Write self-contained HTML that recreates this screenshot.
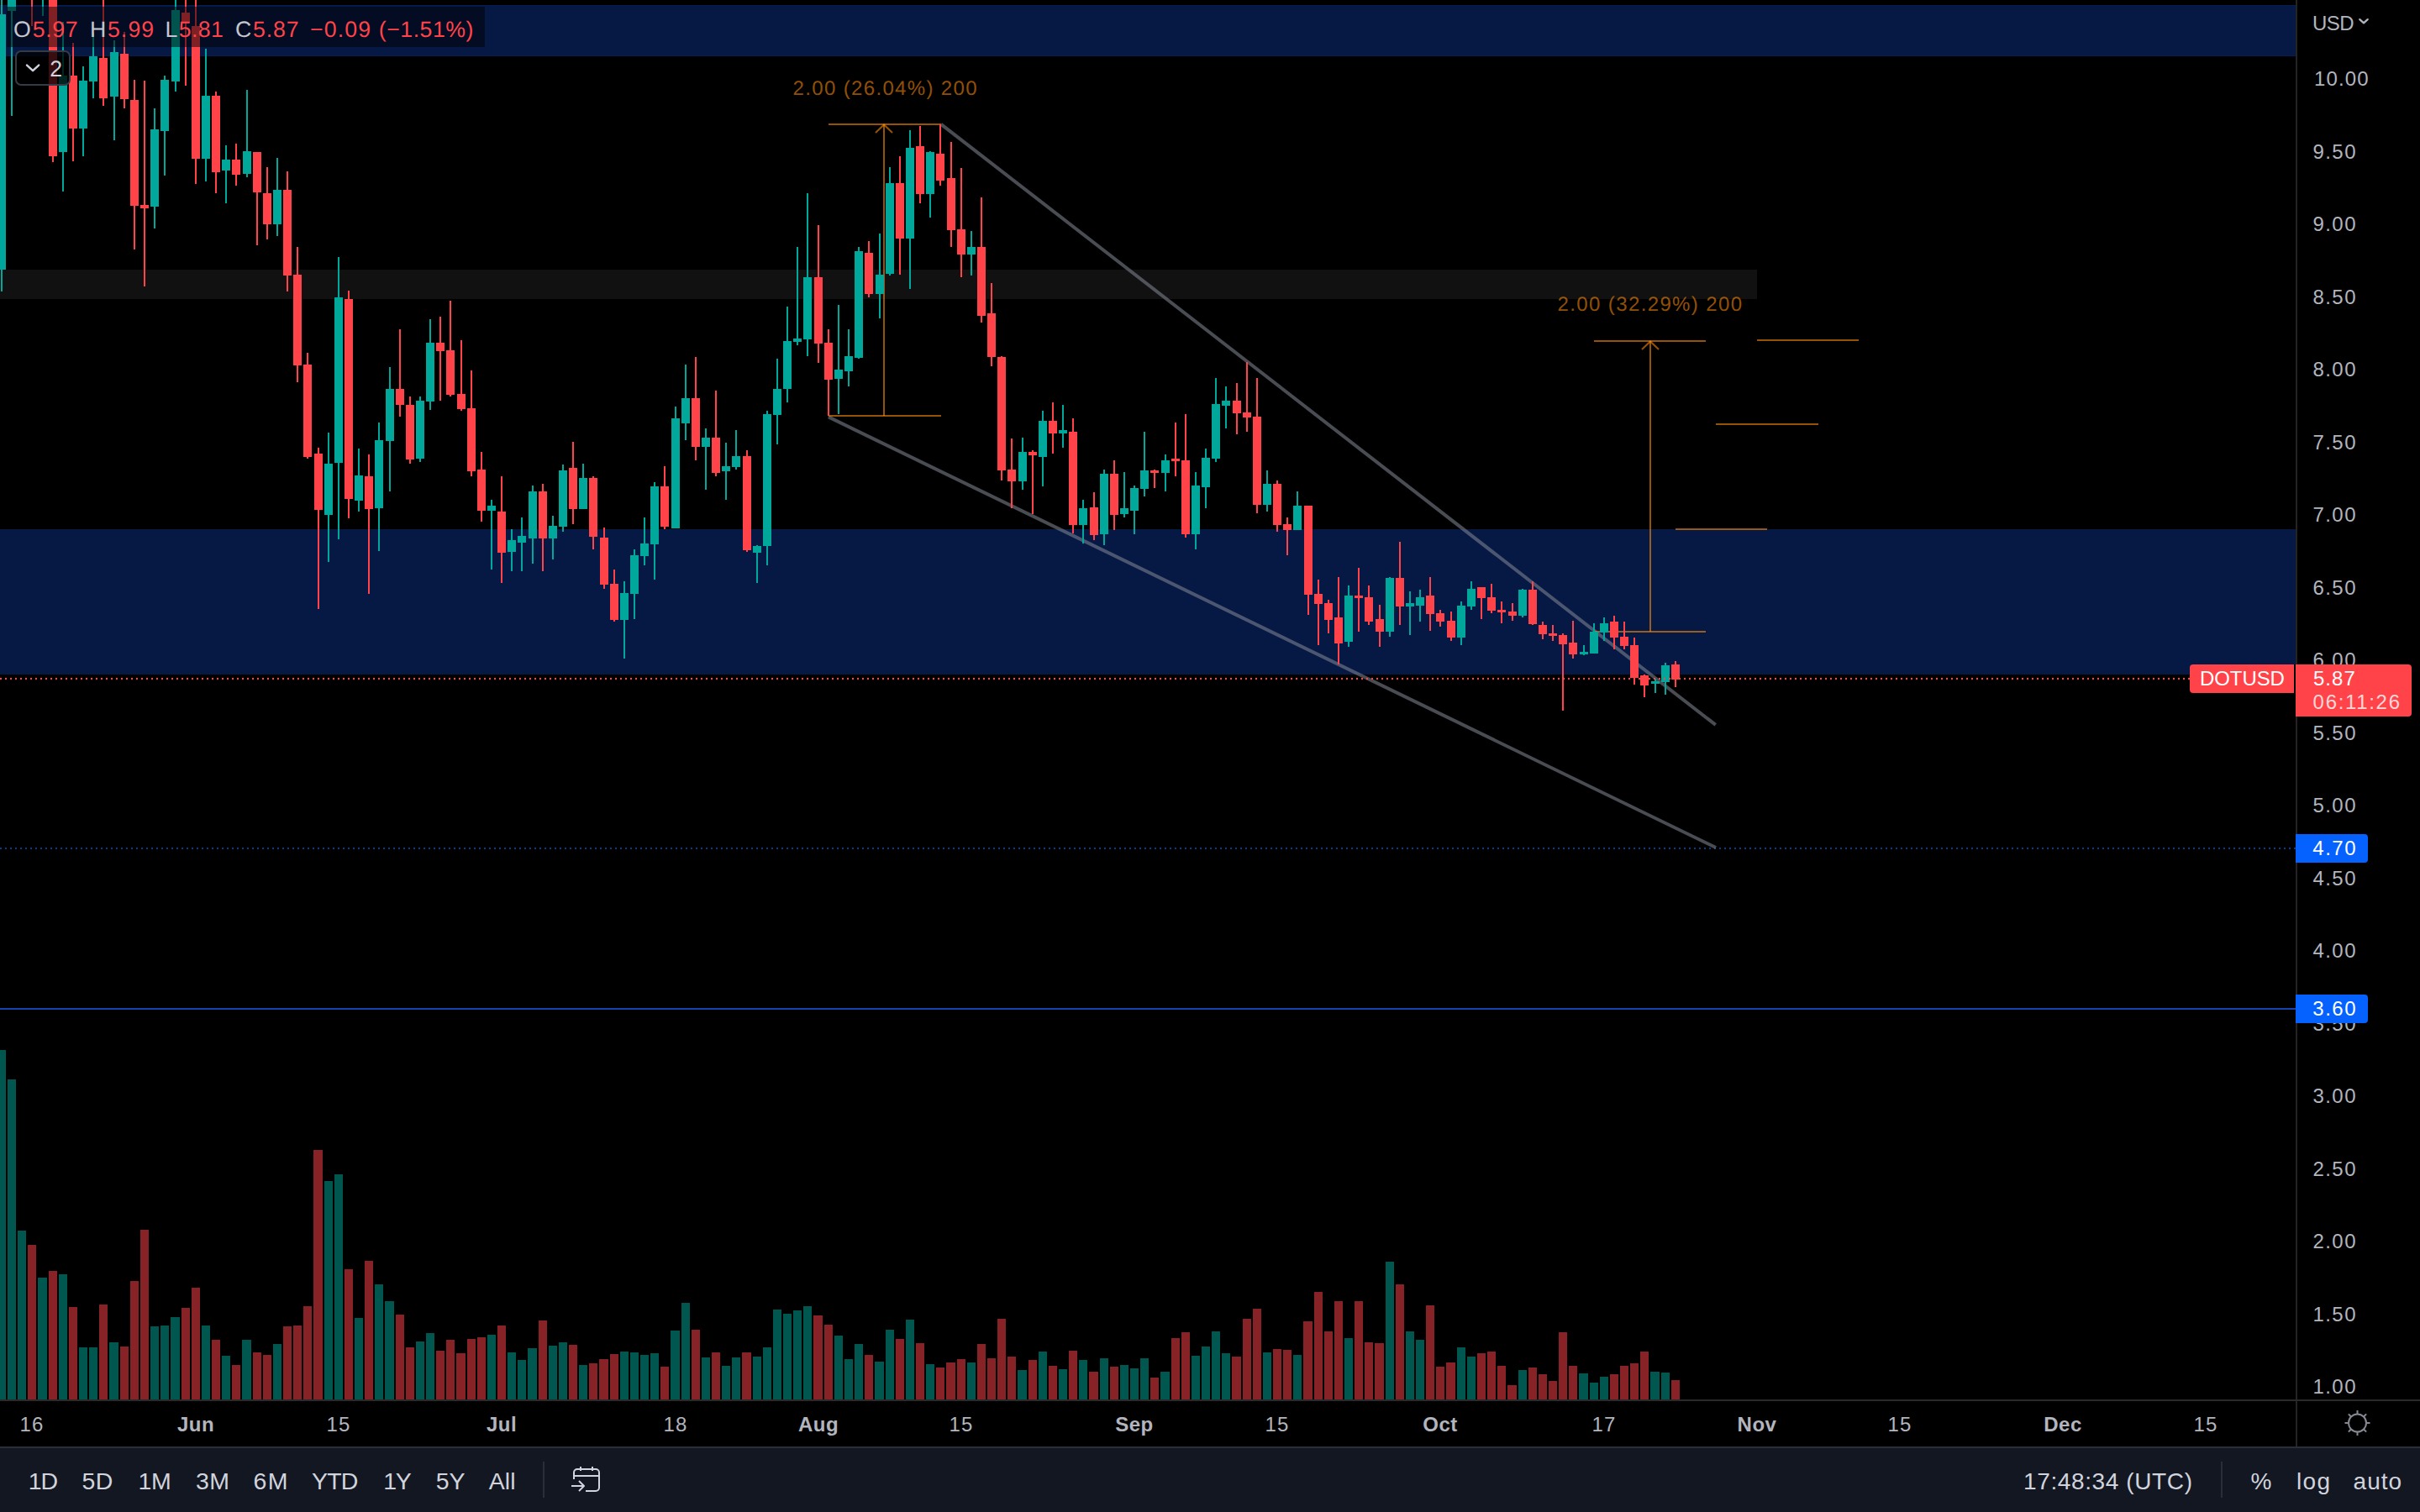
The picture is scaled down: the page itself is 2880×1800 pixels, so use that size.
<!DOCTYPE html>
<html lang="en"><head><meta charset="utf-8"><title>DOTUSD chart</title>
<style>
html,body{margin:0;padding:0;background:#000;}
body{width:2880px;height:1800px;overflow:hidden;position:relative;font-family:"Liberation Sans", sans-serif;}
svg{position:absolute;left:0;top:0;display:block;}
text{font-family:"Liberation Sans", sans-serif;}
</style></head><body>
<svg width="2880" height="1800" viewBox="0 0 2880 1800" shape-rendering="crispEdges">
<rect width="2880" height="1800" fill="#000"/>
<defs><clipPath id="pane"><rect x="0" y="0" width="2732" height="1666"/></clipPath></defs>
<g clip-path="url(#pane)">
<rect x="0" y="6" width="2732" height="61" fill="#061944"/>
<rect x="0" y="6" width="2732" height="1" fill="#061d50"/>
<rect x="0" y="66" width="2732" height="1" fill="#061d50"/>
<rect x="0" y="321" width="2091" height="35" fill="#111111"/>
<rect x="0" y="630" width="2732" height="173" fill="#061944"/>
<rect x="0" y="1200" width="2732" height="2" fill="#1443ab"/>
<line x1="0" y1="1010" x2="2732" y2="1010" stroke="#0b3a8a" stroke-width="2" stroke-dasharray="2 4"/>
<g shape-rendering="geometricPrecision" stroke="rgba(126,129,142,0.59)" stroke-width="4" stroke-linecap="butt">
<line x1="1119.9" y1="147.8" x2="2041.7" y2="862.9"/>
<line x1="986" y1="496.4" x2="2042" y2="1009"/>
</g>
<g fill="rgba(255,142,12,0.585)">
<rect x="986" y="147" width="134" height="2" fill="rgba(255,142,12,0.585)"/>
<rect x="986" y="494" width="134" height="2" fill="rgba(255,142,12,0.585)"/>
<rect x="1051" y="148" width="2" height="347" fill="rgba(255,142,12,0.585)"/>
<rect x="1897" y="405" width="133" height="2" fill="rgba(255,142,12,0.585)"/>
<rect x="1898" y="751" width="132" height="2" fill="rgba(255,142,12,0.585)"/>
<rect x="1963" y="406" width="2" height="346" fill="rgba(255,142,12,0.585)"/>
<rect x="2091" y="404" width="121" height="2" fill="rgba(255,142,12,0.585)"/>
<rect x="2042" y="504" width="122" height="2" fill="rgba(255,142,12,0.585)"/>
<rect x="1994" y="629" width="109" height="2" fill="rgba(255,142,12,0.585)"/>
</g>
<g shape-rendering="geometricPrecision" fill="none" stroke="rgba(255,142,12,0.585)" stroke-width="2">
<path d="M1042 158 L1052 148.5 L1062 158"/>
<path d="M1954 416 L1964 406.5 L1974 416"/>
</g>
<rect x="-3" y="1250" width="10" height="416" fill="#005750"/>
<rect x="9" y="1285" width="10" height="381" fill="#005750"/>
<rect x="21" y="1465" width="10" height="201" fill="#005750"/>
<rect x="33" y="1482" width="10" height="184" fill="#872326"/>
<rect x="45" y="1521" width="11" height="145" fill="#005750"/>
<rect x="58" y="1513" width="10" height="153" fill="#872326"/>
<rect x="70" y="1517" width="10" height="149" fill="#005750"/>
<rect x="82" y="1556" width="10" height="110" fill="#872326"/>
<rect x="94" y="1604" width="10" height="62" fill="#005750"/>
<rect x="106" y="1604" width="10" height="62" fill="#005750"/>
<rect x="118" y="1553" width="10" height="113" fill="#872326"/>
<rect x="130" y="1598" width="11" height="68" fill="#005750"/>
<rect x="143" y="1603" width="10" height="63" fill="#872326"/>
<rect x="155" y="1525" width="10" height="141" fill="#872326"/>
<rect x="167" y="1464" width="10" height="202" fill="#872326"/>
<rect x="179" y="1579" width="10" height="87" fill="#005750"/>
<rect x="191" y="1578" width="10" height="88" fill="#005750"/>
<rect x="203" y="1568" width="11" height="98" fill="#005750"/>
<rect x="216" y="1557" width="10" height="109" fill="#872326"/>
<rect x="228" y="1533" width="10" height="133" fill="#872326"/>
<rect x="240" y="1578" width="10" height="88" fill="#005750"/>
<rect x="252" y="1595" width="10" height="71" fill="#872326"/>
<rect x="264" y="1614" width="10" height="52" fill="#005750"/>
<rect x="276" y="1625" width="10" height="41" fill="#872326"/>
<rect x="288" y="1595" width="11" height="71" fill="#005750"/>
<rect x="301" y="1610" width="10" height="56" fill="#872326"/>
<rect x="313" y="1613" width="10" height="53" fill="#872326"/>
<rect x="325" y="1600" width="10" height="66" fill="#005750"/>
<rect x="337" y="1579" width="10" height="87" fill="#872326"/>
<rect x="349" y="1578" width="10" height="88" fill="#872326"/>
<rect x="361" y="1555" width="10" height="111" fill="#872326"/>
<rect x="373" y="1369" width="11" height="297" fill="#872326"/>
<rect x="386" y="1406" width="10" height="260" fill="#005750"/>
<rect x="398" y="1398" width="10" height="268" fill="#005750"/>
<rect x="410" y="1511" width="10" height="155" fill="#872326"/>
<rect x="422" y="1569" width="10" height="97" fill="#005750"/>
<rect x="434" y="1501" width="10" height="165" fill="#872326"/>
<rect x="446" y="1529" width="10" height="137" fill="#005750"/>
<rect x="458" y="1549" width="11" height="117" fill="#005750"/>
<rect x="471" y="1565" width="10" height="101" fill="#872326"/>
<rect x="483" y="1604" width="10" height="62" fill="#872326"/>
<rect x="495" y="1597" width="10" height="69" fill="#005750"/>
<rect x="507" y="1587" width="10" height="79" fill="#005750"/>
<rect x="519" y="1608" width="10" height="58" fill="#872326"/>
<rect x="531" y="1595" width="10" height="71" fill="#872326"/>
<rect x="543" y="1611" width="11" height="55" fill="#872326"/>
<rect x="556" y="1594" width="10" height="72" fill="#872326"/>
<rect x="568" y="1592" width="10" height="74" fill="#872326"/>
<rect x="580" y="1589" width="10" height="77" fill="#005750"/>
<rect x="592" y="1578" width="10" height="88" fill="#872326"/>
<rect x="604" y="1610" width="10" height="56" fill="#005750"/>
<rect x="616" y="1619" width="10" height="47" fill="#005750"/>
<rect x="628" y="1605" width="11" height="61" fill="#005750"/>
<rect x="641" y="1572" width="10" height="94" fill="#872326"/>
<rect x="653" y="1602" width="10" height="64" fill="#005750"/>
<rect x="665" y="1598" width="10" height="68" fill="#005750"/>
<rect x="677" y="1601" width="10" height="65" fill="#872326"/>
<rect x="689" y="1625" width="10" height="41" fill="#005750"/>
<rect x="701" y="1623" width="10" height="43" fill="#872326"/>
<rect x="713" y="1618" width="11" height="48" fill="#872326"/>
<rect x="726" y="1612" width="10" height="54" fill="#872326"/>
<rect x="738" y="1609" width="10" height="57" fill="#005750"/>
<rect x="750" y="1610" width="10" height="56" fill="#005750"/>
<rect x="762" y="1613" width="10" height="53" fill="#005750"/>
<rect x="774" y="1611" width="10" height="55" fill="#005750"/>
<rect x="786" y="1627" width="10" height="39" fill="#872326"/>
<rect x="798" y="1584" width="11" height="82" fill="#005750"/>
<rect x="811" y="1551" width="10" height="115" fill="#005750"/>
<rect x="823" y="1583" width="10" height="83" fill="#872326"/>
<rect x="835" y="1616" width="10" height="50" fill="#005750"/>
<rect x="847" y="1610" width="10" height="56" fill="#872326"/>
<rect x="859" y="1626" width="10" height="40" fill="#005750"/>
<rect x="871" y="1616" width="10" height="50" fill="#005750"/>
<rect x="883" y="1610" width="11" height="56" fill="#872326"/>
<rect x="896" y="1615" width="10" height="51" fill="#005750"/>
<rect x="908" y="1604" width="10" height="62" fill="#005750"/>
<rect x="920" y="1559" width="10" height="107" fill="#005750"/>
<rect x="932" y="1564" width="10" height="102" fill="#005750"/>
<rect x="944" y="1560" width="10" height="106" fill="#005750"/>
<rect x="956" y="1555" width="10" height="111" fill="#005750"/>
<rect x="968" y="1566" width="11" height="100" fill="#872326"/>
<rect x="981" y="1577" width="10" height="89" fill="#872326"/>
<rect x="993" y="1590" width="10" height="76" fill="#005750"/>
<rect x="1005" y="1618" width="10" height="48" fill="#005750"/>
<rect x="1017" y="1600" width="10" height="66" fill="#005750"/>
<rect x="1029" y="1613" width="10" height="53" fill="#872326"/>
<rect x="1041" y="1621" width="11" height="45" fill="#005750"/>
<rect x="1054" y="1583" width="10" height="83" fill="#005750"/>
<rect x="1066" y="1594" width="10" height="72" fill="#872326"/>
<rect x="1078" y="1571" width="10" height="95" fill="#005750"/>
<rect x="1090" y="1599" width="10" height="67" fill="#872326"/>
<rect x="1102" y="1624" width="10" height="42" fill="#005750"/>
<rect x="1114" y="1628" width="10" height="38" fill="#872326"/>
<rect x="1126" y="1622" width="11" height="44" fill="#872326"/>
<rect x="1139" y="1618" width="10" height="48" fill="#872326"/>
<rect x="1151" y="1622" width="10" height="44" fill="#005750"/>
<rect x="1163" y="1600" width="10" height="66" fill="#872326"/>
<rect x="1175" y="1617" width="10" height="49" fill="#872326"/>
<rect x="1187" y="1570" width="10" height="96" fill="#872326"/>
<rect x="1199" y="1615" width="10" height="51" fill="#872326"/>
<rect x="1211" y="1631" width="11" height="35" fill="#005750"/>
<rect x="1224" y="1619" width="10" height="47" fill="#872326"/>
<rect x="1236" y="1609" width="10" height="57" fill="#005750"/>
<rect x="1248" y="1626" width="10" height="40" fill="#872326"/>
<rect x="1260" y="1630" width="10" height="36" fill="#005750"/>
<rect x="1272" y="1608" width="10" height="58" fill="#872326"/>
<rect x="1284" y="1619" width="10" height="47" fill="#005750"/>
<rect x="1296" y="1633" width="11" height="33" fill="#872326"/>
<rect x="1309" y="1617" width="10" height="49" fill="#005750"/>
<rect x="1321" y="1627" width="10" height="39" fill="#872326"/>
<rect x="1333" y="1625" width="10" height="41" fill="#005750"/>
<rect x="1345" y="1629" width="10" height="37" fill="#005750"/>
<rect x="1357" y="1617" width="10" height="49" fill="#005750"/>
<rect x="1369" y="1640" width="10" height="26" fill="#872326"/>
<rect x="1381" y="1633" width="11" height="33" fill="#005750"/>
<rect x="1394" y="1593" width="10" height="73" fill="#872326"/>
<rect x="1406" y="1586" width="10" height="80" fill="#872326"/>
<rect x="1418" y="1614" width="10" height="52" fill="#005750"/>
<rect x="1430" y="1603" width="10" height="63" fill="#005750"/>
<rect x="1442" y="1585" width="10" height="81" fill="#005750"/>
<rect x="1454" y="1611" width="10" height="55" fill="#005750"/>
<rect x="1466" y="1615" width="11" height="51" fill="#872326"/>
<rect x="1479" y="1570" width="10" height="96" fill="#872326"/>
<rect x="1491" y="1558" width="10" height="108" fill="#872326"/>
<rect x="1503" y="1610" width="10" height="56" fill="#005750"/>
<rect x="1515" y="1606" width="10" height="60" fill="#872326"/>
<rect x="1527" y="1607" width="10" height="59" fill="#872326"/>
<rect x="1539" y="1613" width="10" height="53" fill="#005750"/>
<rect x="1551" y="1573" width="11" height="93" fill="#872326"/>
<rect x="1564" y="1538" width="10" height="128" fill="#872326"/>
<rect x="1576" y="1585" width="10" height="81" fill="#872326"/>
<rect x="1588" y="1549" width="10" height="117" fill="#872326"/>
<rect x="1600" y="1593" width="10" height="73" fill="#005750"/>
<rect x="1612" y="1549" width="10" height="117" fill="#872326"/>
<rect x="1624" y="1598" width="10" height="68" fill="#872326"/>
<rect x="1636" y="1599" width="11" height="67" fill="#872326"/>
<rect x="1649" y="1502" width="10" height="164" fill="#005750"/>
<rect x="1661" y="1529" width="10" height="137" fill="#872326"/>
<rect x="1673" y="1585" width="10" height="81" fill="#005750"/>
<rect x="1685" y="1595" width="10" height="71" fill="#005750"/>
<rect x="1697" y="1554" width="10" height="112" fill="#872326"/>
<rect x="1709" y="1627" width="10" height="39" fill="#872326"/>
<rect x="1721" y="1622" width="11" height="44" fill="#872326"/>
<rect x="1734" y="1604" width="10" height="62" fill="#005750"/>
<rect x="1746" y="1615" width="10" height="51" fill="#005750"/>
<rect x="1758" y="1611" width="10" height="55" fill="#872326"/>
<rect x="1770" y="1609" width="10" height="57" fill="#872326"/>
<rect x="1782" y="1626" width="10" height="40" fill="#872326"/>
<rect x="1794" y="1649" width="11" height="17" fill="#872326"/>
<rect x="1807" y="1631" width="10" height="35" fill="#005750"/>
<rect x="1819" y="1628" width="10" height="38" fill="#872326"/>
<rect x="1831" y="1636" width="10" height="30" fill="#872326"/>
<rect x="1843" y="1644" width="10" height="22" fill="#872326"/>
<rect x="1855" y="1586" width="10" height="80" fill="#872326"/>
<rect x="1867" y="1626" width="10" height="40" fill="#872326"/>
<rect x="1879" y="1635" width="11" height="31" fill="#005750"/>
<rect x="1892" y="1646" width="10" height="20" fill="#005750"/>
<rect x="1904" y="1639" width="10" height="27" fill="#005750"/>
<rect x="1916" y="1636" width="10" height="30" fill="#872326"/>
<rect x="1928" y="1626" width="10" height="40" fill="#872326"/>
<rect x="1940" y="1623" width="10" height="43" fill="#872326"/>
<rect x="1952" y="1609" width="10" height="57" fill="#872326"/>
<rect x="1964" y="1633" width="11" height="33" fill="#005750"/>
<rect x="1977" y="1634" width="10" height="32" fill="#005750"/>
<rect x="1989" y="1643" width="10" height="23" fill="#872326"/>
<rect x="1" y="-5" width="2" height="352" fill="#00a89b"/>
<rect x="-3" y="17" width="10" height="304" fill="#00a89b"/>
<rect x="13" y="-5" width="2" height="143" fill="#00a89b"/>
<rect x="9" y="-5" width="10" height="18" fill="#00a89b"/>
<rect x="37" y="-5" width="2" height="36" fill="#ff4349"/>
<rect x="33" y="-5" width="10" height="2" fill="#ff4349"/>
<rect x="50" y="-5" width="2" height="24" fill="#00a89b"/>
<rect x="46" y="-5" width="10" height="2" fill="#00a89b"/>
<rect x="62" y="-5" width="2" height="198" fill="#ff4349"/>
<rect x="58" y="-5" width="10" height="191" fill="#ff4349"/>
<rect x="74" y="26" width="2" height="202" fill="#00a89b"/>
<rect x="70" y="90" width="10" height="91" fill="#00a89b"/>
<rect x="86" y="51" width="2" height="141" fill="#ff4349"/>
<rect x="82" y="90" width="10" height="63" fill="#ff4349"/>
<rect x="98" y="79" width="2" height="107" fill="#00a89b"/>
<rect x="94" y="96" width="10" height="57" fill="#00a89b"/>
<rect x="110" y="39" width="2" height="78" fill="#00a89b"/>
<rect x="106" y="67" width="10" height="30" fill="#00a89b"/>
<rect x="122" y="-5" width="2" height="131" fill="#ff4349"/>
<rect x="118" y="69" width="10" height="48" fill="#ff4349"/>
<rect x="135" y="48" width="2" height="119" fill="#00a89b"/>
<rect x="131" y="62" width="10" height="53" fill="#00a89b"/>
<rect x="147" y="38" width="2" height="91" fill="#ff4349"/>
<rect x="143" y="64" width="10" height="54" fill="#ff4349"/>
<rect x="159" y="95" width="2" height="202" fill="#ff4349"/>
<rect x="155" y="119" width="10" height="126" fill="#ff4349"/>
<rect x="171" y="96" width="2" height="245" fill="#ff4349"/>
<rect x="167" y="244" width="10" height="4" fill="#ff4349"/>
<rect x="183" y="129" width="2" height="143" fill="#00a89b"/>
<rect x="179" y="154" width="10" height="92" fill="#00a89b"/>
<rect x="195" y="90" width="2" height="119" fill="#00a89b"/>
<rect x="191" y="95" width="10" height="61" fill="#00a89b"/>
<rect x="208" y="-5" width="2" height="114" fill="#00a89b"/>
<rect x="204" y="12" width="10" height="85" fill="#00a89b"/>
<rect x="220" y="-5" width="2" height="107" fill="#ff4349"/>
<rect x="216" y="15" width="10" height="12" fill="#ff4349"/>
<rect x="232" y="-5" width="2" height="224" fill="#ff4349"/>
<rect x="228" y="31" width="10" height="158" fill="#ff4349"/>
<rect x="244" y="58" width="2" height="158" fill="#00a89b"/>
<rect x="240" y="114" width="10" height="75" fill="#00a89b"/>
<rect x="256" y="109" width="2" height="121" fill="#ff4349"/>
<rect x="252" y="114" width="10" height="91" fill="#ff4349"/>
<rect x="268" y="173" width="2" height="69" fill="#00a89b"/>
<rect x="264" y="190" width="10" height="13" fill="#00a89b"/>
<rect x="280" y="171" width="2" height="50" fill="#ff4349"/>
<rect x="276" y="190" width="10" height="18" fill="#ff4349"/>
<rect x="293" y="107" width="2" height="104" fill="#00a89b"/>
<rect x="289" y="180" width="10" height="27" fill="#00a89b"/>
<rect x="305" y="181" width="2" height="111" fill="#ff4349"/>
<rect x="301" y="181" width="10" height="48" fill="#ff4349"/>
<rect x="317" y="199" width="2" height="86" fill="#ff4349"/>
<rect x="313" y="230" width="10" height="37" fill="#ff4349"/>
<rect x="329" y="188" width="2" height="93" fill="#00a89b"/>
<rect x="325" y="226" width="10" height="41" fill="#00a89b"/>
<rect x="341" y="204" width="2" height="143" fill="#ff4349"/>
<rect x="337" y="226" width="10" height="102" fill="#ff4349"/>
<rect x="353" y="294" width="2" height="161" fill="#ff4349"/>
<rect x="349" y="327" width="10" height="108" fill="#ff4349"/>
<rect x="365" y="420" width="2" height="126" fill="#ff4349"/>
<rect x="361" y="434" width="10" height="110" fill="#ff4349"/>
<rect x="378" y="533" width="2" height="192" fill="#ff4349"/>
<rect x="374" y="540" width="10" height="67" fill="#ff4349"/>
<rect x="390" y="515" width="2" height="154" fill="#00a89b"/>
<rect x="386" y="552" width="10" height="61" fill="#00a89b"/>
<rect x="402" y="306" width="2" height="336" fill="#00a89b"/>
<rect x="398" y="354" width="10" height="197" fill="#00a89b"/>
<rect x="414" y="346" width="2" height="271" fill="#ff4349"/>
<rect x="410" y="356" width="10" height="238" fill="#ff4349"/>
<rect x="426" y="534" width="2" height="75" fill="#00a89b"/>
<rect x="422" y="566" width="10" height="30" fill="#00a89b"/>
<rect x="438" y="541" width="2" height="166" fill="#ff4349"/>
<rect x="434" y="567" width="10" height="39" fill="#ff4349"/>
<rect x="450" y="503" width="2" height="153" fill="#00a89b"/>
<rect x="446" y="524" width="10" height="81" fill="#00a89b"/>
<rect x="463" y="437" width="2" height="148" fill="#00a89b"/>
<rect x="459" y="463" width="10" height="62" fill="#00a89b"/>
<rect x="475" y="392" width="2" height="104" fill="#ff4349"/>
<rect x="471" y="463" width="10" height="19" fill="#ff4349"/>
<rect x="487" y="472" width="2" height="80" fill="#ff4349"/>
<rect x="483" y="482" width="10" height="65" fill="#ff4349"/>
<rect x="499" y="472" width="2" height="78" fill="#00a89b"/>
<rect x="495" y="477" width="10" height="69" fill="#00a89b"/>
<rect x="511" y="380" width="2" height="108" fill="#00a89b"/>
<rect x="507" y="408" width="10" height="70" fill="#00a89b"/>
<rect x="523" y="377" width="2" height="100" fill="#ff4349"/>
<rect x="519" y="408" width="10" height="10" fill="#ff4349"/>
<rect x="535" y="358" width="2" height="114" fill="#ff4349"/>
<rect x="531" y="417" width="10" height="53" fill="#ff4349"/>
<rect x="548" y="405" width="2" height="84" fill="#ff4349"/>
<rect x="544" y="469" width="10" height="18" fill="#ff4349"/>
<rect x="560" y="441" width="2" height="126" fill="#ff4349"/>
<rect x="556" y="486" width="10" height="75" fill="#ff4349"/>
<rect x="572" y="538" width="2" height="83" fill="#ff4349"/>
<rect x="568" y="559" width="10" height="49" fill="#ff4349"/>
<rect x="584" y="595" width="2" height="83" fill="#00a89b"/>
<rect x="580" y="602" width="10" height="6" fill="#00a89b"/>
<rect x="596" y="567" width="2" height="127" fill="#ff4349"/>
<rect x="592" y="609" width="10" height="49" fill="#ff4349"/>
<rect x="608" y="630" width="2" height="50" fill="#00a89b"/>
<rect x="604" y="643" width="10" height="14" fill="#00a89b"/>
<rect x="620" y="616" width="2" height="64" fill="#00a89b"/>
<rect x="616" y="638" width="10" height="8" fill="#00a89b"/>
<rect x="633" y="578" width="2" height="93" fill="#00a89b"/>
<rect x="629" y="585" width="10" height="56" fill="#00a89b"/>
<rect x="645" y="576" width="2" height="104" fill="#ff4349"/>
<rect x="641" y="585" width="10" height="56" fill="#ff4349"/>
<rect x="657" y="614" width="2" height="52" fill="#00a89b"/>
<rect x="653" y="626" width="10" height="15" fill="#00a89b"/>
<rect x="669" y="553" width="2" height="80" fill="#00a89b"/>
<rect x="665" y="560" width="10" height="67" fill="#00a89b"/>
<rect x="681" y="526" width="2" height="98" fill="#ff4349"/>
<rect x="677" y="557" width="10" height="49" fill="#ff4349"/>
<rect x="693" y="552" width="2" height="54" fill="#00a89b"/>
<rect x="689" y="569" width="10" height="37" fill="#00a89b"/>
<rect x="705" y="567" width="2" height="87" fill="#ff4349"/>
<rect x="701" y="569" width="10" height="70" fill="#ff4349"/>
<rect x="718" y="628" width="2" height="73" fill="#ff4349"/>
<rect x="714" y="640" width="10" height="56" fill="#ff4349"/>
<rect x="730" y="678" width="2" height="62" fill="#ff4349"/>
<rect x="726" y="695" width="10" height="43" fill="#ff4349"/>
<rect x="742" y="692" width="2" height="92" fill="#00a89b"/>
<rect x="738" y="706" width="10" height="32" fill="#00a89b"/>
<rect x="754" y="654" width="2" height="83" fill="#00a89b"/>
<rect x="750" y="661" width="10" height="46" fill="#00a89b"/>
<rect x="766" y="616" width="2" height="57" fill="#00a89b"/>
<rect x="762" y="647" width="10" height="15" fill="#00a89b"/>
<rect x="778" y="574" width="2" height="116" fill="#00a89b"/>
<rect x="774" y="579" width="10" height="69" fill="#00a89b"/>
<rect x="790" y="555" width="2" height="75" fill="#ff4349"/>
<rect x="786" y="579" width="10" height="48" fill="#ff4349"/>
<rect x="803" y="484" width="2" height="145" fill="#00a89b"/>
<rect x="799" y="498" width="10" height="131" fill="#00a89b"/>
<rect x="815" y="434" width="2" height="90" fill="#00a89b"/>
<rect x="811" y="474" width="10" height="30" fill="#00a89b"/>
<rect x="827" y="425" width="2" height="123" fill="#ff4349"/>
<rect x="823" y="474" width="10" height="58" fill="#ff4349"/>
<rect x="839" y="510" width="2" height="73" fill="#00a89b"/>
<rect x="835" y="521" width="10" height="11" fill="#00a89b"/>
<rect x="851" y="465" width="2" height="102" fill="#ff4349"/>
<rect x="847" y="521" width="10" height="42" fill="#ff4349"/>
<rect x="863" y="527" width="2" height="68" fill="#00a89b"/>
<rect x="859" y="555" width="10" height="6" fill="#00a89b"/>
<rect x="875" y="512" width="2" height="47" fill="#00a89b"/>
<rect x="871" y="543" width="10" height="13" fill="#00a89b"/>
<rect x="888" y="536" width="2" height="121" fill="#ff4349"/>
<rect x="884" y="543" width="10" height="112" fill="#ff4349"/>
<rect x="900" y="649" width="2" height="45" fill="#00a89b"/>
<rect x="896" y="650" width="10" height="8" fill="#00a89b"/>
<rect x="912" y="489" width="2" height="184" fill="#00a89b"/>
<rect x="908" y="493" width="10" height="157" fill="#00a89b"/>
<rect x="924" y="427" width="2" height="102" fill="#00a89b"/>
<rect x="920" y="463" width="10" height="31" fill="#00a89b"/>
<rect x="936" y="365" width="2" height="114" fill="#00a89b"/>
<rect x="932" y="406" width="10" height="57" fill="#00a89b"/>
<rect x="948" y="294" width="2" height="117" fill="#00a89b"/>
<rect x="944" y="403" width="10" height="4" fill="#00a89b"/>
<rect x="960" y="230" width="2" height="194" fill="#00a89b"/>
<rect x="956" y="330" width="10" height="74" fill="#00a89b"/>
<rect x="973" y="268" width="2" height="164" fill="#ff4349"/>
<rect x="969" y="330" width="10" height="79" fill="#ff4349"/>
<rect x="985" y="392" width="2" height="103" fill="#ff4349"/>
<rect x="981" y="408" width="10" height="44" fill="#ff4349"/>
<rect x="997" y="363" width="2" height="130" fill="#00a89b"/>
<rect x="993" y="440" width="10" height="11" fill="#00a89b"/>
<rect x="1009" y="392" width="2" height="68" fill="#00a89b"/>
<rect x="1005" y="424" width="10" height="18" fill="#00a89b"/>
<rect x="1021" y="294" width="2" height="133" fill="#00a89b"/>
<rect x="1017" y="299" width="10" height="127" fill="#00a89b"/>
<rect x="1033" y="287" width="2" height="67" fill="#ff4349"/>
<rect x="1029" y="301" width="10" height="49" fill="#ff4349"/>
<rect x="1046" y="278" width="2" height="101" fill="#00a89b"/>
<rect x="1042" y="327" width="10" height="23" fill="#00a89b"/>
<rect x="1058" y="199" width="2" height="129" fill="#00a89b"/>
<rect x="1054" y="218" width="10" height="108" fill="#00a89b"/>
<rect x="1070" y="186" width="2" height="141" fill="#ff4349"/>
<rect x="1066" y="218" width="10" height="66" fill="#ff4349"/>
<rect x="1082" y="155" width="2" height="189" fill="#00a89b"/>
<rect x="1078" y="176" width="10" height="108" fill="#00a89b"/>
<rect x="1094" y="150" width="2" height="92" fill="#ff4349"/>
<rect x="1090" y="174" width="10" height="57" fill="#ff4349"/>
<rect x="1106" y="180" width="2" height="79" fill="#00a89b"/>
<rect x="1102" y="181" width="10" height="50" fill="#00a89b"/>
<rect x="1118" y="148" width="2" height="73" fill="#ff4349"/>
<rect x="1114" y="183" width="10" height="32" fill="#ff4349"/>
<rect x="1131" y="169" width="2" height="125" fill="#ff4349"/>
<rect x="1127" y="212" width="10" height="62" fill="#ff4349"/>
<rect x="1143" y="200" width="2" height="130" fill="#ff4349"/>
<rect x="1139" y="273" width="10" height="30" fill="#ff4349"/>
<rect x="1155" y="275" width="2" height="53" fill="#00a89b"/>
<rect x="1151" y="294" width="10" height="9" fill="#00a89b"/>
<rect x="1167" y="235" width="2" height="149" fill="#ff4349"/>
<rect x="1163" y="294" width="10" height="82" fill="#ff4349"/>
<rect x="1179" y="337" width="2" height="99" fill="#ff4349"/>
<rect x="1175" y="373" width="10" height="52" fill="#ff4349"/>
<rect x="1191" y="424" width="2" height="148" fill="#ff4349"/>
<rect x="1187" y="425" width="10" height="135" fill="#ff4349"/>
<rect x="1203" y="522" width="2" height="83" fill="#ff4349"/>
<rect x="1199" y="559" width="10" height="14" fill="#ff4349"/>
<rect x="1216" y="521" width="2" height="62" fill="#00a89b"/>
<rect x="1212" y="538" width="10" height="35" fill="#00a89b"/>
<rect x="1228" y="536" width="2" height="76" fill="#ff4349"/>
<rect x="1224" y="538" width="10" height="4" fill="#ff4349"/>
<rect x="1240" y="489" width="2" height="90" fill="#00a89b"/>
<rect x="1236" y="501" width="10" height="43" fill="#00a89b"/>
<rect x="1252" y="479" width="2" height="61" fill="#ff4349"/>
<rect x="1248" y="501" width="10" height="15" fill="#ff4349"/>
<rect x="1264" y="482" width="2" height="51" fill="#00a89b"/>
<rect x="1260" y="512" width="10" height="4" fill="#00a89b"/>
<rect x="1276" y="498" width="2" height="137" fill="#ff4349"/>
<rect x="1272" y="514" width="10" height="111" fill="#ff4349"/>
<rect x="1288" y="595" width="2" height="52" fill="#00a89b"/>
<rect x="1284" y="605" width="10" height="20" fill="#00a89b"/>
<rect x="1301" y="586" width="2" height="57" fill="#ff4349"/>
<rect x="1297" y="604" width="10" height="33" fill="#ff4349"/>
<rect x="1313" y="559" width="2" height="90" fill="#00a89b"/>
<rect x="1309" y="564" width="10" height="72" fill="#00a89b"/>
<rect x="1325" y="548" width="2" height="83" fill="#ff4349"/>
<rect x="1321" y="564" width="10" height="49" fill="#ff4349"/>
<rect x="1337" y="562" width="2" height="54" fill="#00a89b"/>
<rect x="1333" y="605" width="10" height="7" fill="#00a89b"/>
<rect x="1349" y="578" width="2" height="58" fill="#00a89b"/>
<rect x="1345" y="581" width="10" height="27" fill="#00a89b"/>
<rect x="1361" y="514" width="2" height="77" fill="#00a89b"/>
<rect x="1357" y="560" width="10" height="22" fill="#00a89b"/>
<rect x="1373" y="559" width="2" height="22" fill="#ff4349"/>
<rect x="1369" y="560" width="10" height="3" fill="#ff4349"/>
<rect x="1386" y="541" width="2" height="44" fill="#00a89b"/>
<rect x="1382" y="548" width="10" height="15" fill="#00a89b"/>
<rect x="1398" y="503" width="2" height="64" fill="#ff4349"/>
<rect x="1394" y="546" width="10" height="3" fill="#ff4349"/>
<rect x="1410" y="493" width="2" height="147" fill="#ff4349"/>
<rect x="1406" y="548" width="10" height="88" fill="#ff4349"/>
<rect x="1422" y="562" width="2" height="92" fill="#00a89b"/>
<rect x="1418" y="578" width="10" height="58" fill="#00a89b"/>
<rect x="1434" y="534" width="2" height="71" fill="#00a89b"/>
<rect x="1430" y="545" width="10" height="35" fill="#00a89b"/>
<rect x="1446" y="450" width="2" height="100" fill="#00a89b"/>
<rect x="1442" y="481" width="10" height="65" fill="#00a89b"/>
<rect x="1458" y="460" width="2" height="50" fill="#00a89b"/>
<rect x="1454" y="477" width="10" height="6" fill="#00a89b"/>
<rect x="1471" y="456" width="2" height="61" fill="#ff4349"/>
<rect x="1467" y="477" width="10" height="15" fill="#ff4349"/>
<rect x="1483" y="431" width="2" height="83" fill="#ff4349"/>
<rect x="1479" y="491" width="10" height="6" fill="#ff4349"/>
<rect x="1495" y="450" width="2" height="161" fill="#ff4349"/>
<rect x="1491" y="496" width="10" height="105" fill="#ff4349"/>
<rect x="1507" y="560" width="2" height="49" fill="#00a89b"/>
<rect x="1503" y="576" width="10" height="25" fill="#00a89b"/>
<rect x="1519" y="572" width="2" height="61" fill="#ff4349"/>
<rect x="1515" y="576" width="10" height="49" fill="#ff4349"/>
<rect x="1531" y="616" width="2" height="45" fill="#ff4349"/>
<rect x="1527" y="624" width="10" height="7" fill="#ff4349"/>
<rect x="1543" y="585" width="2" height="46" fill="#00a89b"/>
<rect x="1539" y="602" width="10" height="29" fill="#00a89b"/>
<rect x="1556" y="602" width="2" height="130" fill="#ff4349"/>
<rect x="1552" y="602" width="10" height="106" fill="#ff4349"/>
<rect x="1568" y="690" width="2" height="78" fill="#ff4349"/>
<rect x="1564" y="707" width="10" height="12" fill="#ff4349"/>
<rect x="1580" y="714" width="2" height="40" fill="#ff4349"/>
<rect x="1576" y="718" width="10" height="20" fill="#ff4349"/>
<rect x="1592" y="687" width="2" height="104" fill="#ff4349"/>
<rect x="1588" y="735" width="10" height="31" fill="#ff4349"/>
<rect x="1604" y="697" width="2" height="73" fill="#00a89b"/>
<rect x="1600" y="709" width="10" height="55" fill="#00a89b"/>
<rect x="1616" y="676" width="2" height="76" fill="#ff4349"/>
<rect x="1612" y="709" width="10" height="3" fill="#ff4349"/>
<rect x="1628" y="697" width="2" height="47" fill="#ff4349"/>
<rect x="1624" y="711" width="10" height="29" fill="#ff4349"/>
<rect x="1641" y="720" width="2" height="50" fill="#ff4349"/>
<rect x="1637" y="737" width="10" height="15" fill="#ff4349"/>
<rect x="1653" y="687" width="2" height="71" fill="#00a89b"/>
<rect x="1649" y="688" width="10" height="64" fill="#00a89b"/>
<rect x="1665" y="645" width="2" height="99" fill="#ff4349"/>
<rect x="1661" y="688" width="10" height="34" fill="#ff4349"/>
<rect x="1677" y="704" width="2" height="52" fill="#00a89b"/>
<rect x="1673" y="718" width="10" height="4" fill="#00a89b"/>
<rect x="1689" y="702" width="2" height="38" fill="#00a89b"/>
<rect x="1685" y="711" width="10" height="10" fill="#00a89b"/>
<rect x="1701" y="687" width="2" height="64" fill="#ff4349"/>
<rect x="1697" y="709" width="10" height="22" fill="#ff4349"/>
<rect x="1713" y="726" width="2" height="20" fill="#ff4349"/>
<rect x="1709" y="730" width="10" height="10" fill="#ff4349"/>
<rect x="1726" y="728" width="2" height="35" fill="#ff4349"/>
<rect x="1722" y="739" width="10" height="20" fill="#ff4349"/>
<rect x="1738" y="716" width="2" height="52" fill="#00a89b"/>
<rect x="1734" y="721" width="10" height="38" fill="#00a89b"/>
<rect x="1750" y="692" width="2" height="34" fill="#00a89b"/>
<rect x="1746" y="701" width="10" height="21" fill="#00a89b"/>
<rect x="1762" y="699" width="2" height="38" fill="#ff4349"/>
<rect x="1758" y="699" width="10" height="13" fill="#ff4349"/>
<rect x="1774" y="695" width="2" height="35" fill="#ff4349"/>
<rect x="1770" y="711" width="10" height="16" fill="#ff4349"/>
<rect x="1786" y="716" width="2" height="26" fill="#ff4349"/>
<rect x="1782" y="726" width="10" height="3" fill="#ff4349"/>
<rect x="1799" y="718" width="2" height="21" fill="#ff4349"/>
<rect x="1795" y="728" width="10" height="5" fill="#ff4349"/>
<rect x="1811" y="701" width="2" height="34" fill="#00a89b"/>
<rect x="1807" y="702" width="10" height="31" fill="#00a89b"/>
<rect x="1823" y="692" width="2" height="52" fill="#ff4349"/>
<rect x="1819" y="702" width="10" height="41" fill="#ff4349"/>
<rect x="1835" y="740" width="2" height="21" fill="#ff4349"/>
<rect x="1831" y="744" width="10" height="11" fill="#ff4349"/>
<rect x="1847" y="744" width="2" height="19" fill="#ff4349"/>
<rect x="1843" y="754" width="10" height="3" fill="#ff4349"/>
<rect x="1859" y="754" width="2" height="92" fill="#ff4349"/>
<rect x="1855" y="756" width="10" height="11" fill="#ff4349"/>
<rect x="1871" y="739" width="2" height="45" fill="#ff4349"/>
<rect x="1867" y="765" width="10" height="14" fill="#ff4349"/>
<rect x="1884" y="768" width="2" height="12" fill="#00a89b"/>
<rect x="1880" y="776" width="10" height="3" fill="#00a89b"/>
<rect x="1896" y="742" width="2" height="36" fill="#00a89b"/>
<rect x="1892" y="752" width="10" height="26" fill="#00a89b"/>
<rect x="1908" y="735" width="2" height="28" fill="#00a89b"/>
<rect x="1904" y="742" width="10" height="11" fill="#00a89b"/>
<rect x="1920" y="733" width="2" height="40" fill="#ff4349"/>
<rect x="1916" y="740" width="10" height="19" fill="#ff4349"/>
<rect x="1932" y="740" width="2" height="33" fill="#ff4349"/>
<rect x="1928" y="758" width="10" height="11" fill="#ff4349"/>
<rect x="1944" y="759" width="2" height="56" fill="#ff4349"/>
<rect x="1940" y="768" width="10" height="39" fill="#ff4349"/>
<rect x="1956" y="803" width="2" height="27" fill="#ff4349"/>
<rect x="1952" y="804" width="10" height="12" fill="#ff4349"/>
<rect x="1969" y="808" width="2" height="17" fill="#00a89b"/>
<rect x="1965" y="811" width="10" height="3" fill="#00a89b"/>
<rect x="1981" y="789" width="2" height="38" fill="#00a89b"/>
<rect x="1977" y="792" width="10" height="20" fill="#00a89b"/>
<rect x="1993" y="787" width="2" height="31" fill="#ff4349"/>
<rect x="1989" y="791" width="10" height="18" fill="#ff4349"/>
<line x1="0" y1="808" x2="2732" y2="808" stroke="#ff4349" stroke-width="2" stroke-dasharray="2 4"/>
</g>
<rect x="8" y="8" width="569" height="48" fill="rgba(0,0,0,0.5)"/>
<g shape-rendering="geometricPrecision" text-rendering="geometricPrecision">
<text x="15.9" y="43.9" font-size="26.7" fill="#c3c6cf" font-weight="normal">O</text>
<text x="38.7" y="43.9" font-size="26.7" fill="#ff4349" font-weight="normal" textLength="54.0" lengthAdjust="spacing">5.97</text>
<text x="106.9" y="43.9" font-size="26.7" fill="#c3c6cf" font-weight="normal">H</text>
<text x="127.9" y="43.9" font-size="26.7" fill="#ff4349" font-weight="normal" textLength="55.3" lengthAdjust="spacing">5.99</text>
<text x="196.6" y="43.9" font-size="26.7" fill="#c3c6cf" font-weight="normal">L</text>
<text x="212.7" y="43.9" font-size="26.7" fill="#ff4349" font-weight="normal" textLength="53.1" lengthAdjust="spacing">5.81</text>
<text x="279.9" y="43.9" font-size="26.7" fill="#c3c6cf" font-weight="normal">C</text>
<text x="301.0" y="43.9" font-size="26.7" fill="#ff4349" font-weight="normal" textLength="54.6" lengthAdjust="spacing">5.87</text>
<text x="369.0" y="43.9" font-size="26.7" fill="#ff4349" font-weight="normal" textLength="72.0" lengthAdjust="spacing">−0.09</text>
<text x="450.8" y="43.9" font-size="26.7" fill="#ff4349" font-weight="normal" textLength="112.6" lengthAdjust="spacing">(−1.51%)</text>
<rect x="19" y="61" width="64" height="40" rx="6" ry="6" fill="rgba(0,0,0,0.78)" stroke="#363a45" stroke-width="2"/>
<path d="M32 77.6 L39.1 84.2 L46.2 77.6" fill="none" stroke="#d1d4dc" stroke-width="2.4" stroke-linecap="round" stroke-linejoin="round"/>
<text x="59.3" y="90.6" font-size="26.7" fill="#d1d4dc" font-weight="normal">2</text>
<text x="943.6" y="113.1" font-size="24" fill="rgba(255,142,12,0.585)" font-weight="normal" textLength="218.9" lengthAdjust="spacing">2.00 (26.04%) 200</text>
<text x="1853.6" y="369.9" font-size="24" fill="rgba(255,142,12,0.585)" font-weight="normal" textLength="219.4" lengthAdjust="spacing">2.00 (32.29%) 200</text>
</g>
<rect x="2732" y="0" width="2" height="1722" fill="#242424"/>
<g shape-rendering="geometricPrecision">
<text x="2754.0" y="102.2" font-size="24" fill="#b2b5be" font-weight="normal" textLength="64.5" lengthAdjust="spacing">10.00</text>
<text x="2752.5" y="188.7" font-size="24" fill="#b2b5be" font-weight="normal" textLength="51.0" lengthAdjust="spacing">9.50</text>
<text x="2752.5" y="275.2" font-size="24" fill="#b2b5be" font-weight="normal" textLength="51.0" lengthAdjust="spacing">9.00</text>
<text x="2752.5" y="361.7" font-size="24" fill="#b2b5be" font-weight="normal" textLength="51.0" lengthAdjust="spacing">8.50</text>
<text x="2752.5" y="448.2" font-size="24" fill="#b2b5be" font-weight="normal" textLength="51.0" lengthAdjust="spacing">8.00</text>
<text x="2752.5" y="534.7" font-size="24" fill="#b2b5be" font-weight="normal" textLength="51.0" lengthAdjust="spacing">7.50</text>
<text x="2752.5" y="621.2" font-size="24" fill="#b2b5be" font-weight="normal" textLength="51.0" lengthAdjust="spacing">7.00</text>
<text x="2752.5" y="707.7" font-size="24" fill="#b2b5be" font-weight="normal" textLength="51.0" lengthAdjust="spacing">6.50</text>
<text x="2752.5" y="794.2" font-size="24" fill="#b2b5be" font-weight="normal" textLength="51.0" lengthAdjust="spacing">6.00</text>
<text x="2752.5" y="880.7" font-size="24" fill="#b2b5be" font-weight="normal" textLength="51.0" lengthAdjust="spacing">5.50</text>
<text x="2752.5" y="967.2" font-size="24" fill="#b2b5be" font-weight="normal" textLength="51.0" lengthAdjust="spacing">5.00</text>
<text x="2752.5" y="1053.7" font-size="24" fill="#b2b5be" font-weight="normal" textLength="51.0" lengthAdjust="spacing">4.50</text>
<text x="2752.5" y="1140.2" font-size="24" fill="#b2b5be" font-weight="normal" textLength="51.0" lengthAdjust="spacing">4.00</text>
<text x="2752.5" y="1226.7" font-size="24" fill="#b2b5be" font-weight="normal" textLength="51.0" lengthAdjust="spacing">3.50</text>
<text x="2752.5" y="1313.2" font-size="24" fill="#b2b5be" font-weight="normal" textLength="51.0" lengthAdjust="spacing">3.00</text>
<text x="2752.5" y="1399.7" font-size="24" fill="#b2b5be" font-weight="normal" textLength="51.0" lengthAdjust="spacing">2.50</text>
<text x="2752.5" y="1486.2" font-size="24" fill="#b2b5be" font-weight="normal" textLength="51.0" lengthAdjust="spacing">2.00</text>
<text x="2752.5" y="1572.7" font-size="24" fill="#b2b5be" font-weight="normal" textLength="51.0" lengthAdjust="spacing">1.50</text>
<text x="2752.5" y="1659.2" font-size="24" fill="#b2b5be" font-weight="normal" textLength="51.0" lengthAdjust="spacing">1.00</text>
<text x="2752.0" y="36.2" font-size="24" fill="#b2b5be" font-weight="normal" textLength="49.5" lengthAdjust="spacing">USD</text>
<path d="M2808.3 23.1 L2813 27.3 L2817.7 23.1" fill="none" stroke="#b2b5be" stroke-width="2.3" stroke-linecap="round" stroke-linejoin="round"/>
<path d="M2732 993 H2814 a4 4 0 0 1 4 4 V1023 a4 4 0 0 1 -4 4 H2732 Z" fill="#0562ff"/>
<text x="2752.3" y="1018" font-size="24" fill="#fff" font-weight="normal" textLength="51.2" lengthAdjust="spacing">4.70</text>
<path d="M2732 1184 H2814 a4 4 0 0 1 4 4 V1214 a4 4 0 0 1 -4 4 H2732 Z" fill="#0562ff"/>
<text x="2752.3" y="1209" font-size="24" fill="#fff" font-weight="normal" textLength="51.2" lengthAdjust="spacing">3.60</text>
<rect x="2730" y="791" width="2" height="34" fill="#000"/>
<path d="M2732 791 H2866 a4 4 0 0 1 4 4 V849 a4 4 0 0 1 -4 4 H2732 Z" fill="#ff4349"/>
<text x="2752.9" y="816" font-size="24" fill="#fff" font-weight="normal" textLength="50.0" lengthAdjust="spacing">5.87</text>
<text x="2752.6" y="844" font-size="24" fill="rgba(255,255,255,0.8)" font-weight="normal" textLength="103.4" lengthAdjust="spacing">06:11:26</text>
<path d="M2730 791 H2610 a4 4 0 0 0 -4 4 V821 a4 4 0 0 0 4 4 H2730 Z" fill="#ff4349"/>
<text x="2618.0" y="816" font-size="24" fill="#fff" font-weight="normal" textLength="100.9" lengthAdjust="spacing">DOTUSD</text>
</g>
<rect x="0" y="1666" width="2880" height="2" fill="#2a2a2a"/>
<g shape-rendering="geometricPrecision">
<text x="38" y="1703.5" font-size="24" fill="#b2b5be" text-anchor="middle" font-weight="normal" letter-spacing="1.2">16</text>
<text x="233" y="1703.5" font-size="24" fill="#b2b5be" text-anchor="middle" font-weight="bold" letter-spacing="0.5">Jun</text>
<text x="403" y="1703.5" font-size="24" fill="#b2b5be" text-anchor="middle" font-weight="normal" letter-spacing="1.2">15</text>
<text x="597" y="1703.5" font-size="24" fill="#b2b5be" text-anchor="middle" font-weight="bold" letter-spacing="0.5">Jul</text>
<text x="804" y="1703.5" font-size="24" fill="#b2b5be" text-anchor="middle" font-weight="normal" letter-spacing="1.2">18</text>
<text x="974" y="1703.5" font-size="24" fill="#b2b5be" text-anchor="middle" font-weight="bold" letter-spacing="0.5">Aug</text>
<text x="1144" y="1703.5" font-size="24" fill="#b2b5be" text-anchor="middle" font-weight="normal" letter-spacing="1.2">15</text>
<text x="1350" y="1703.5" font-size="24" fill="#b2b5be" text-anchor="middle" font-weight="bold" letter-spacing="0.5">Sep</text>
<text x="1520" y="1703.5" font-size="24" fill="#b2b5be" text-anchor="middle" font-weight="normal" letter-spacing="1.2">15</text>
<text x="1714" y="1703.5" font-size="24" fill="#b2b5be" text-anchor="middle" font-weight="bold" letter-spacing="0.5">Oct</text>
<text x="1909" y="1703.5" font-size="24" fill="#b2b5be" text-anchor="middle" font-weight="normal" letter-spacing="1.2">17</text>
<text x="2091" y="1703.5" font-size="24" fill="#b2b5be" text-anchor="middle" font-weight="bold" letter-spacing="0.5">Nov</text>
<text x="2261" y="1703.5" font-size="24" fill="#b2b5be" text-anchor="middle" font-weight="normal" letter-spacing="1.2">15</text>
<text x="2455" y="1703.5" font-size="24" fill="#b2b5be" text-anchor="middle" font-weight="bold" letter-spacing="0.5">Dec</text>
<text x="2625" y="1703.5" font-size="24" fill="#b2b5be" text-anchor="middle" font-weight="normal" letter-spacing="1.2">15</text>
<g fill="none" stroke="#868993" stroke-width="2" stroke-linecap="butt">
<circle cx="2805.5" cy="1694" r="10.5"/>
<line x1="2816.50" y1="1694.00" x2="2820.50" y2="1694.00"/>
<line x1="2813.28" y1="1701.78" x2="2816.11" y2="1704.61"/>
<line x1="2805.50" y1="1705.00" x2="2805.50" y2="1709.00"/>
<line x1="2797.72" y1="1701.78" x2="2794.89" y2="1704.61"/>
<line x1="2794.50" y1="1694.00" x2="2790.50" y2="1694.00"/>
<line x1="2797.72" y1="1686.22" x2="2794.89" y2="1683.39"/>
<line x1="2805.50" y1="1683.00" x2="2805.50" y2="1679.00"/>
<line x1="2813.28" y1="1686.22" x2="2816.11" y2="1683.39"/>
</g>
</g>
<rect x="0" y="1722" width="2880" height="78" fill="#131722"/>
<rect x="0" y="1722" width="2880" height="2" fill="#2a2e39"/>
<g shape-rendering="geometricPrecision">
<text x="33.7" y="1772.6" font-size="28.5" fill="#d1d4dc" font-weight="normal" textLength="35.3" lengthAdjust="spacing">1D</text>
<text x="97.6" y="1772.6" font-size="28.5" fill="#d1d4dc" font-weight="normal" textLength="36.7" lengthAdjust="spacing">5D</text>
<text x="164.6" y="1772.6" font-size="28.5" fill="#d1d4dc" font-weight="normal" textLength="39.1" lengthAdjust="spacing">1M</text>
<text x="233.0" y="1772.6" font-size="28.5" fill="#d1d4dc" font-weight="normal" textLength="40.0" lengthAdjust="spacing">3M</text>
<text x="301.5" y="1772.6" font-size="28.5" fill="#d1d4dc" font-weight="normal" textLength="41.0" lengthAdjust="spacing">6M</text>
<text x="370.9" y="1772.6" font-size="28.5" fill="#d1d4dc" font-weight="normal" textLength="55.5" lengthAdjust="spacing">YTD</text>
<text x="456.2" y="1772.6" font-size="28.5" fill="#d1d4dc" font-weight="normal" textLength="33.5" lengthAdjust="spacing">1Y</text>
<text x="518.7" y="1772.6" font-size="28.5" fill="#d1d4dc" font-weight="normal" textLength="34.7" lengthAdjust="spacing">5Y</text>
<text x="581.7" y="1772.6" font-size="28.5" fill="#d1d4dc" font-weight="normal" textLength="31.8" lengthAdjust="spacing">All</text>
<rect x="646" y="1740" width="2" height="43" fill="#2a2e39"/>
<g fill="none" stroke="#d1d4dc" stroke-width="2" stroke-linecap="butt" stroke-linejoin="round">
<path d="M683 1761 V1753 a4 4 0 0 1 4 -4 H709 a4 4 0 0 1 4 4 V1771 a4 4 0 0 1 -4 4 H697"/>
<path d="M683 1757 H713"/>
<path d="M691 1746 V1751 M705 1746 V1751"/>
<path d="M680 1769 H695 M689 1763 L695 1769 L689 1775"/>
</g>
<text x="2408.0" y="1772.6" font-size="28" fill="#d1d4dc" font-weight="normal" textLength="201.0" lengthAdjust="spacing">17:48:34 (UTC)</text>
<rect x="2643" y="1740" width="2" height="43" fill="#2a2e39"/>
<text x="2678.6" y="1772.6" font-size="28" fill="#d1d4dc" font-weight="normal">%</text>
<text x="2733.0" y="1772.6" font-size="28" fill="#d1d4dc" font-weight="normal" textLength="40.0" lengthAdjust="spacing">log</text>
<text x="2800.6" y="1772.6" font-size="28" fill="#d1d4dc" font-weight="normal" textLength="57.4" lengthAdjust="spacing">auto</text>
</g>
</svg>
</body></html>
